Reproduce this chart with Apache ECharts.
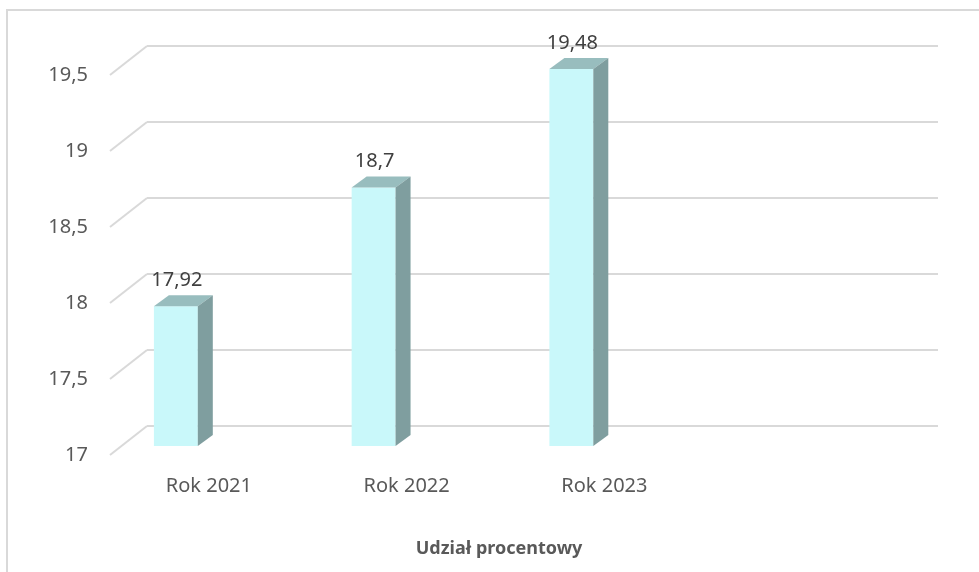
<!DOCTYPE html>
<html>
<head>
<meta charset="utf-8">
<script src="https://cdn.jsdelivr.net/npm/echarts@6/dist/echarts.min.js"></script>
<style>html,body{margin:0;padding:0;background:#fff;}#c{width:979px;height:572px;}</style>
</head>
<body>
<div id="c"></div>
<script>
const categories = ['Rok 2021', 'Rok 2022', 'Rok 2023'];
const values = [17.92, 18.7, 19.48];
const yTicks = [17, 17.5, 18, 18.5, 19, 19.5];
const axisTitle = 'Udział procentowy';

const FONT = 'Noto Sans';
const DEPTH_X = 37, DEPTH_Y = 29;   // floor depth (front -> back wall)
const BAR_DX = 15, BAR_DY = 11;     // bar depth
const BAR_SHIFT = 9;                // bar front plane above floor front edge

const chart = echarts.init(document.getElementById('c'), null, {renderer: 'canvas'});
const fmt = v => String(v).replace('.', ',');
const catData = categories.concat(['']);

const option = {
  animation: false,
  backgroundColor: '#ffffff',
  grid: [
    {left: 110, right: 78, top: 75, bottom: 117},
    {left: 147, right: 41, top: 46, bottom: 146}
  ],
  xAxis: [
    {gridIndex: 0, type: 'category', data: catData,
     axisLine: {show: false}, axisTick: {show: false}, splitLine: {show: false},
     axisLabel: {fontSize: 20, color: '#595959', margin: 21, fontFamily: FONT}},
    {gridIndex: 1, type: 'category', data: catData, show: false}
  ],
  yAxis: [
    {gridIndex: 0, type: 'value', min: 17, max: 19.5, interval: 0.5,
     axisLine: {show: false}, axisTick: {show: false}, splitLine: {show: false},
     axisLabel: {fontSize: 20, color: '#595959', margin: 22, fontFamily: FONT, formatter: fmt}},
    {gridIndex: 1, type: 'value', min: 17, max: 19.5, interval: 0.5,
     axisLine: {show: false}, axisTick: {show: false}, axisLabel: {show: false},
     splitLine: {show: true, lineStyle: {color: '#d9d9d9', width: 2}}}
  ],
  series: [
    {
      type: 'custom', xAxisIndex: 0, yAxisIndex: 0, z: 1, silent: true,
      data: yTicks.map(v => [0, v]),
      renderItem: function (params, api) {
        const p = api.coord([api.value(0), api.value(1)]);
        const w = api.size([1, 0])[0];
        const x0 = p[0] - w / 2;
        return {
          type: 'line',
          shape: {x1: x0, y1: p[1], x2: x0 + DEPTH_X, y2: p[1] - DEPTH_Y},
          style: {stroke: '#d9d9d9', lineWidth: 2}
        };
      }
    },
    {
      type: 'custom', xAxisIndex: 0, yAxisIndex: 0, z: 3,
      data: values.map((v, i) => [i, v]),
      renderItem: function (params, api) {
        const i = api.value(0), v = api.value(1);
        const c = api.coord([i, v]);
        const b = api.coord([i, 17]);
        const w = api.size([1, 0])[0];
        const x0 = c[0] - 0.278 * w;
        const x1 = c[0] - 0.056 * w;
        const yt = c[1] - BAR_SHIFT;
        const yb = b[1] - BAR_SHIFT;
        return {
          type: 'group',
          children: [
            {type: 'rect', shape: {x: x0, y: yt, width: x1 - x0, height: yb - yt},
             style: {fill: '#c9f8fa'}},
            {type: 'polygon', shape: {points: [[x0, yt], [x1, yt], [x1 + BAR_DX, yt - BAR_DY], [x0 + BAR_DX, yt - BAR_DY]]},
             style: {fill: '#98bdbe'}},
            {type: 'polygon', shape: {points: [[x1, yt], [x1 + BAR_DX, yt - BAR_DY], [x1 + BAR_DX, yb - BAR_DY], [x1, yb]]},
             style: {fill: '#7f9e9f'}},
            {type: 'text', z2: 10,
             style: {text: fmt(v), x: (x0 + x1) / 2 + 1, y: yt - 26, align: 'center', verticalAlign: 'middle',
                     fontSize: 20, fill: '#404040', fontFamily: FONT}}
          ]
        };
      }
    }
  ],
  graphic: [
    {type: 'polyline', silent: true, z: 0,
     shape: {points: [[7, 572], [7, 10], [979, 10]]},
     style: {stroke: '#d9d9d9', lineWidth: 2, fill: null}},
    {type: 'text', silent: true,
     style: {text: axisTitle, x: 499, y: 549, align: 'center', verticalAlign: 'middle',
             fontSize: 18, fontWeight: 'bold', fill: '#595959', fontFamily: FONT}}
  ]
};
chart.setOption(option);
</script>
</body>
</html>
